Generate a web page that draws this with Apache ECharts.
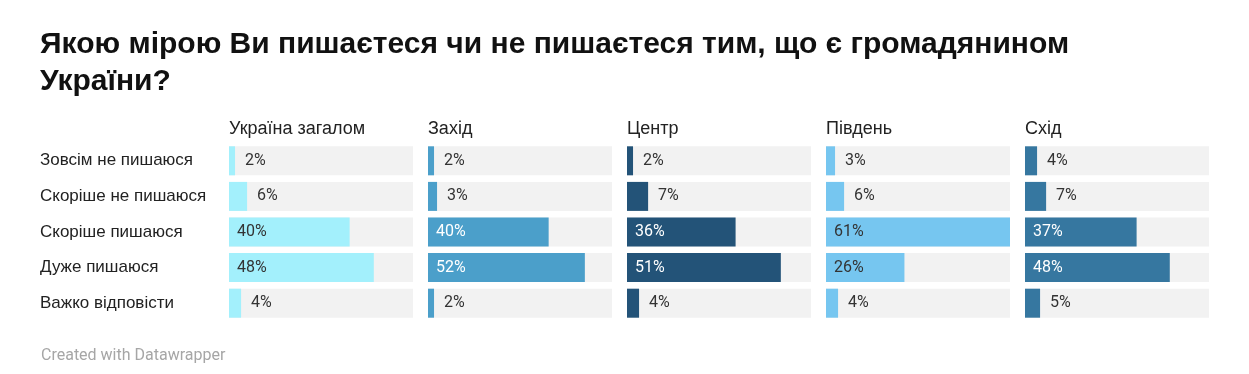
<!DOCTYPE html>
<html><head><meta charset="utf-8">
<script src="https://cdn.jsdelivr.net/npm/echarts@6/dist/echarts.min.js"></script>
<style>html,body{margin:0;padding:0;background:#fff}#c{width:1249px;height:374px}</style>
</head><body><div id="c"></div>
<script>
const categories = ['Зовсім не пишаюся','Скоріше не пишаюся','Скоріше пишаюся','Дуже пишаюся','Важко відповісти'];
const panels = ['Україна загалом','Захід','Центр','Південь','Схід'];
const ukraine = [2,6,40,48,4];
const west = [2,3,40,52,2];
const center = [2,7,36,51,4];
const south = [3,6,61,26,4];
const east = [4,7,37,48,5];
const titleText = 'Якою мірою Ви пишаєтеся чи не пишаєтеся тим, що є громадянином\nУкраїни?';
const footerText = 'Created with Datawrapper';

const values = [ukraine, west, center, south, east];
const colors = ['#a3f0fc','#4b9fca','#235378','#76c6f0','#3677a0'];
const insideDark = [true,false,false,true,false];
const xMax = 61;

const chart = echarts.init(document.getElementById('c'), null, {renderer:'canvas'});
const grids=[], xAxes=[], yAxes=[], series=[];
const titles = [{
  text: titleText, left: 40, top: 26, padding: 0,
  textStyle:{fontFamily:'Liberation Sans', fontWeight:'bold', fontSize:30, lineHeight:37, color:'#111'}
},{
  text: footerText, left: 41, top: 348, padding: 0,
  textStyle:{fontFamily:'Roboto', fontWeight:'normal', fontSize:16, color:'#a6a6a6'}
}];
panels.forEach((p,i)=>{
  const left = 229 + i*199;
  grids.push({left:left, width:184, top:143, height:178, containLabel:false});
  titles.push({text:p, left:left, top:120, padding:0,
    textStyle:{fontFamily:'Liberation Sans', fontWeight:'normal', fontSize:18, color:'#222'}});
  xAxes.push({type:'value', gridIndex:i, min:0, max:xMax, show:false});
  yAxes.push({type:'category', gridIndex:i, data:categories, inverse:true,
    axisLine:{show:false}, axisTick:{show:false}, splitLine:{show:false},
    axisLabel:{show:i===0, align:'left', margin:189, fontFamily:'Liberation Sans', fontSize:17, color:'#222'}});
  series.push({
    type:'bar', xAxisIndex:i, yAxisIndex:i, barWidth:29,
    showBackground:true, backgroundStyle:{color:'#f2f2f2'},
    itemStyle:{color:colors[i]},
    data: values[i].map(v=>{
      const inside = v >= 15;
      return {value:v, label:{show:true, position: inside?'insideLeft':'right', distance: inside?8:10,
        formatter:'{c}%', fontFamily:'Roboto', fontSize:16,
        color: inside ? (insideDark[i] ? '#333' : '#fff') : '#333'}};
    })
  });
});
chart.setOption({animation:false, title:titles, grid:grids, xAxis:xAxes, yAxis:yAxes, series:series});
</script></body></html>
